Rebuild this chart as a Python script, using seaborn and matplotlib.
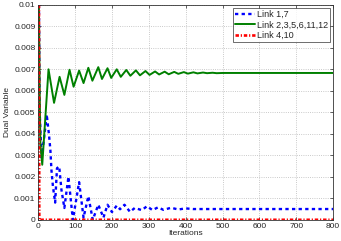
import numpy as np
import pandas as pd
import matplotlib
matplotlib.use("Agg")
import matplotlib.pyplot as plt
import seaborn as sns

# values (iteration, dual variable)
green_iter = [2, 4, 6, 11, 28, 43, 58, 71, 85, 96, 111, 123, 136, 147, 163, 173,
              188, 198, 213, 224, 239, 250, 265, 276, 291, 302, 317, 328, 343, 354,
              369, 380, 395, 406, 421, 432, 447, 458, 473, 484, 500, 800]
green_val = [0.0100, 0.0060, 0.0035, 0.00256, 0.00700, 0.00544, 0.00665, 0.00581,
             0.00698, 0.00619, 0.00694, 0.00636, 0.00707, 0.00647, 0.00710, 0.00655,
             0.00705, 0.00660, 0.00700, 0.00665, 0.00697, 0.00670, 0.00695, 0.00672,
             0.00692, 0.00674, 0.00690, 0.00676, 0.00689, 0.00677, 0.00688, 0.00679,
             0.00687, 0.00680, 0.00686, 0.00681, 0.00685, 0.00682, 0.00684, 0.00682,
             0.00683, 0.00683]

blue_iter = [2, 4, 9, 16, 23, 29, 33, 36, 40, 46, 51, 57, 63, 71, 82, 94, 111, 123,
             136, 148, 163, 177, 188, 200, 213, 222, 234, 249, 262, 281, 295, 310,
             325, 340, 360, 380, 400, 420, 450, 800]
blue_val = [0.0100, 0.0050, 0.0029, 0.0038, 0.0049, 0.0040, 0.00326, 0.0023, 0.00155,
            0.0008, 0.0024, 0.00248, 0.0014, 0.00055, 0.0020, 0.0, 0.00175, 0.0001,
            0.0011, 0.0, 0.0007, 0.0001, 0.0007, 0.00036, 0.00066, 0.00049, 0.0007,
            0.00037, 0.00055, 0.00045, 0.00063, 0.00045, 0.00058, 0.00046, 0.00056,
            0.00048, 0.00053, 0.0005, 0.0005, 0.0005]

red_iter = [2, 3, 800]
red_val = [0.0100, 0.0, 0.0]

labels = ["Link 1,7", "Link 2,3,5,6,11,12", "Link 4,10"]

sns.set_theme(style="ticks")
plt.rcParams['font.family'] = ['Liberation Sans', 'DejaVu Sans']

fig, ax = plt.subplots(figsize=(3.41, 2.41), dpi=100)
fig.subplots_adjust(left=0.112, right=0.977, top=0.98, bottom=0.088)

sns.lineplot(x=blue_iter, y=blue_val, ax=ax, color="#0000ff", lw=1.7,
             linestyle=(0, (1.4, 1.4)), label=labels[0])
sns.lineplot(x=green_iter, y=green_val, ax=ax, color="#008000", lw=1.4,
             label=labels[1])
sns.lineplot(x=red_iter, y=red_val, ax=ax, color="#ff0000", lw=1.9,
             linestyle=(0, (1.3, 0.7, 0.45, 0.7)), label=labels[2])

ax.set_xlim(0, 800)
ax.set_ylim(0, 0.01)
ax.set_xticks(np.arange(0, 801, 100))
ax.set_yticks(np.arange(0, 0.0101, 0.001))
ax.set_yticklabels(["0", "0.001", "0.002", "0.003", "0.004", "0.005",
                    "0.006", "0.007", "0.008", "0.009", "0.01"])
ax.grid(True, linestyle=":", color="#b8b8b8", lw=0.6)
ax.tick_params(direction="in", length=2.5, width=0.5, labelsize=6, pad=2,
               top=True, right=True)
for s in ax.spines.values():
    s.set_linewidth(0.6)
    s.set_color("#333333")

ax.set_xlabel("Iterations", fontsize=6, labelpad=0)
ax.set_ylabel("Dual Variable", fontsize=6, labelpad=2)

leg = ax.legend(loc="upper right", fontsize=6.5, frameon=True, fancybox=False,
                handlelength=2.2, borderpad=0.25, labelspacing=0.15,
                handletextpad=0.2, borderaxespad=0.35)
leg.get_frame().set_edgecolor("black")
leg.get_frame().set_linewidth(0.5)

plt.savefig("out.png", dpi=100)
plt.close()
